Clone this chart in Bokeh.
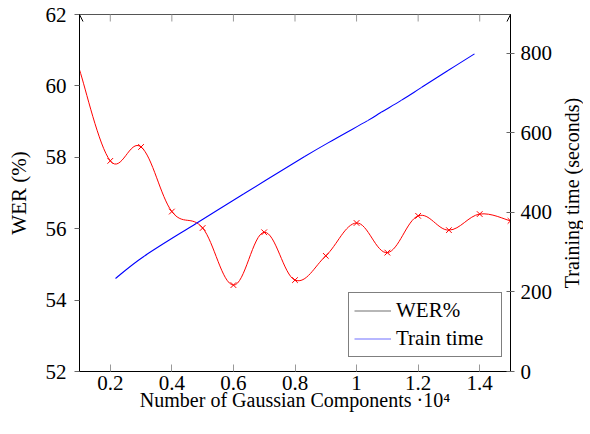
import numpy as np
from bokeh.plotting import figure
from bokeh.layouts import row
from bokeh.models import (ColumnDataSource, Range1d, LinearAxis, FixedTicker, Legend,
                          LegendItem, Arrow, OpenHead)
from bokeh.embed import file_html
from bokeh.resources import INLINE

# ---- data ----
wer_x = [0.1, 0.2, 0.3, 0.4, 0.5, 0.6, 0.7, 0.8, 0.9, 1.0, 1.1, 1.2, 1.3, 1.4, 1.5]
wer_vals = [60.45, 57.9, 58.29, 56.48, 56.02, 54.42, 55.9, 54.56, 55.24, 56.16,
            55.33, 56.36, 55.96, 56.41, 56.22]
wer_marker_x = wer_x[1:]
wer_marker_vals = wer_vals[1:]

time_x = [0.217, 0.31, 0.48, 0.634, 0.83, 0.93, 1.036, 1.08, 1.145, 1.21, 1.297, 1.383]
time_vals = [234, 290, 373, 447, 540, 585, 631, 652, 682, 714, 757, 799]

x_ticks = [0.2, 0.4, 0.6, 0.8, 1.0, 1.2, 1.4]
x_tick_labels = ["0.2", "0.4", "0.6", "0.8", "1", "1.2", "1.4"]
wer_ticks = [52, 54, 56, 58, 60, 62]
time_ticks = [0, 200, 400, 600, 800]

FONT = "Liberation Serif"
FS = "21px"
H = 418
TOP, BOTTOM = 14, 47


def smooth_segments(xs, ys, k=0.183):
    xs = np.asarray(xs, float)
    ys = np.asarray(ys, float)
    n = len(xs)
    seg = dict(x0=[], y0=[], x1=[], y1=[], cx0=[], cy0=[], cx1=[], cy1=[])
    for i in range(n - 1):
        a = max(i - 1, 0)
        d = min(i + 2, n - 1)
        seg["x0"].append(xs[i]); seg["y0"].append(ys[i])
        seg["x1"].append(xs[i + 1]); seg["y1"].append(ys[i + 1])
        seg["cx0"].append(xs[i] + k * (xs[i + 1] - xs[a]))
        seg["cy0"].append(ys[i] + k * (ys[i + 1] - ys[a]))
        seg["cx1"].append(xs[i + 1] - k * (xs[d] - xs[i]))
        seg["cy1"].append(ys[i + 1] - k * (ys[d] - ys[i]))
    return ColumnDataSource(seg)


def style_axis(ax):
    ax.major_label_text_font = FONT
    ax.major_label_text_font_size = FS
    ax.major_label_text_color = "black"
    ax.axis_label_text_font = FONT
    ax.axis_label_text_font_size = FS
    ax.axis_label_text_font_style = "normal"
    ax.axis_label_text_color = "black"
    ax.minor_tick_line_color = None
    ax.axis_line_color = "black"
    ax.axis_line_width = 1


p = figure(width=558, height=H, output_backend="svg", toolbar_location=None,
           x_range=Range1d(0.1, 1.5), y_range=Range1d(52, 62),
           x_axis_location=None, y_axis_location=None,
           min_border_left=79, min_border_right=48, min_border_top=TOP, min_border_bottom=BOTTOM)
p.extra_y_ranges = {"time": Range1d(0, 898)}
p.grid.visible = False
p.outline_line_color = "#555555"
p.outline_line_width = 1
p.background_fill_color = "white"
p.border_fill_color = "white"

# bottom axis
xb = LinearAxis(ticker=FixedTicker(ticks=x_ticks), axis_label="Number of Gaussian Components ·10⁴")
style_axis(xb)
xb.major_label_overrides = {t: l for t, l in zip(x_ticks, x_tick_labels)}
xb.major_tick_in = 7
xb.major_tick_out = 0
xb.major_tick_line_color = "#999999"
xb.major_label_standoff = 4
xb.axis_label_text_font_size = "20px"
xb.axis_label_standoff = -4
p.add_layout(xb, "below")

# left axis
yl = LinearAxis(ticker=FixedTicker(ticks=wer_ticks), axis_label="WER (%)")
style_axis(yl)
yl.major_tick_in = 0
yl.major_tick_out = 5
yl.major_tick_line_color = "#666666"
yl.major_label_standoff = 8
yl.axis_label_standoff = 12
p.add_layout(yl, "left")

# right axis: ticks and labels
yr = LinearAxis(y_range_name="time", ticker=FixedTicker(ticks=time_ticks))
style_axis(yr)
yr.major_tick_in = 4
yr.major_tick_out = 4
yr.major_tick_line_color = "#666666"
yr.major_label_standoff = 6
p.add_layout(yr, "right")

# top ticks (inside, gray)
p.scatter(x_ticks, [wer_ticks[-1]] * len(x_ticks), marker="dash", angle=90, angle_units="deg",
          size=14, line_color="#999999", line_width=1)

# axis arrows
for xa, yrn, y0, y1 in [(0.1, "default", 61.5, 62.0), (1.5, "time", 870, 898)]:
    p.add_layout(Arrow(x_start=xa, y_start=y0, x_end=xa, y_end=y1, y_range_name=yrn,
                       line_color="black", line_width=1,
                       end=OpenHead(size=7, line_color="black", line_width=1)))

# data
wer_src = smooth_segments(wer_x, wer_vals)
p.bezier(x0="x0", y0="y0", x1="x1", y1="y1", cx0="cx0", cy0="cy0", cx1="cx1", cy1="cy1",
         source=wer_src, line_color="red", line_width=1)
p.scatter(wer_marker_x, wer_marker_vals, marker="x", size=8, line_color="red", line_width=1)

time_src = smooth_segments(time_x, time_vals)
p.bezier(x0="x0", y0="y0", x1="x1", y1="y1", cx0="cx0", cy0="cy0", cx1="cx1", cy1="cy1",
         source=time_src, line_color="blue", line_width=1.1, y_range_name="time")

# legend (samples like pgfplots)
nan = float("nan")
g1 = p.line(x=[nan], y=[nan], line_color="#707070", line_width=1.2)
g2 = p.line(x=[nan], y=[nan], line_color="#7070ff", line_width=1.2)
legend = Legend(items=[LegendItem(label="WER%", renderers=[g1]),
                       LegendItem(label="Train time", renderers=[g2])],
                location=(269, 14), orientation="vertical",
                label_text_font=FONT, label_text_font_size=FS, label_text_color="black",
                label_height=25, label_width=100, glyph_width=37, glyph_height=25,
                label_standoff=5, spacing=3, padding=5, margin=0,
                border_line_color="black", border_line_width=1,
                background_fill_color="white", background_fill_alpha=1)
p.add_layout(legend)

# narrow companion figure carrying the right-hand axis title (reads bottom-to-top)
q = figure(width=24, height=H, output_backend="svg", toolbar_location=None,
           x_range=Range1d(0, 1), y_range=Range1d(0, 898),
           x_axis_location=None, y_axis_location=None,
           min_border_left=23, min_border_right=0, min_border_top=TOP, min_border_bottom=BOTTOM)
q.grid.visible = False
q.outline_line_color = None
q.background_fill_color = "white"
q.border_fill_color = "white"
qa = LinearAxis(ticker=FixedTicker(ticks=[]), axis_label="Training time (seconds)")
style_axis(qa)
qa.axis_label_text_font_size = "20px"
qa.axis_line_color = None
qa.major_tick_line_color = None
qa.major_tick_in = 0
qa.major_tick_out = 0
qa.major_label_standoff = 0
qa.axis_label_standoff = 0
q.add_layout(qa, "left")

layout = row(p, q, spacing=0)
open("out.html", "w").write(file_html(layout, INLINE))
